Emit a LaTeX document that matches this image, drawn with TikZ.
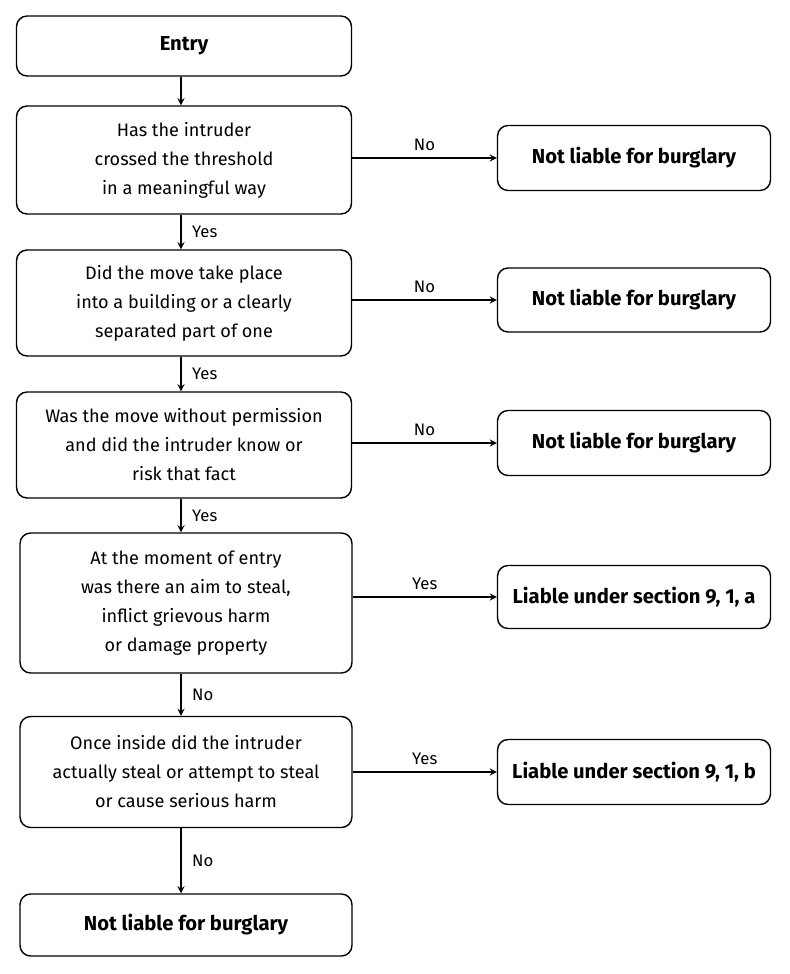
\documentclass[tikz,border=0pt]{standalone}
\usepackage{fontspec}
\setmainfont{Fira Sans}
\usetikzlibrary{positioning}

\begin{document}
\begin{tikzpicture}[x=0.02cm,y=-0.02cm]
\tikzset{every node/.style={inner sep=0pt},
  box/.style={draw,rounded corners=6pt,line width=0.8pt,align=center,
    font=\fontsize{10.3}{16.5}\selectfont},
  bbox/.style={box,font=\fontsize{11.5}{14}\selectfont\bfseries},
  lbl/.style={font=\fontsize{9.5}{11}\selectfont},
  arr/.style={->,line width=0.8pt,>=stealth}}
\useasboundingbox (0,0) rectangle (789,974);
\node [bbox,minimum width=6.7cm,minimum height=1.2cm] (entry) at (184,46) {Entry};
\node [box,minimum width=6.7cm,minimum height=2.16cm] (q1) at (184,160) {Has the intruder\\crossed the threshold\\in a meaningful way};
\node [box,minimum width=6.7cm,minimum height=2.12cm] (q2) at (184,303) {Did the move take place\\into a building or a clearly\\separated part of one};
\node [box,minimum width=6.7cm,minimum height=2.12cm] (q3) at (184,445) {Was the move without permission\\and did the intruder know or\\risk that fact};
\node [box,minimum width=6.64cm,minimum height=2.8cm] (q4) at (186,603) {At the moment of entry\\was there an aim to steal,\\inflict grievous harm\\or damage property};
\node [box,minimum width=6.64cm,minimum height=2.22cm] (q5) at (186,772) {Once inside did the intruder\\actually steal or attempt to steal\\or cause serious harm};
\node [bbox,minimum width=6.64cm,minimum height=1.24cm] (n6) at (186,925) {Not liable for burglary};
\node [bbox,minimum width=5.46cm,minimum height=1.3cm] (n1) at (634,158) {Not liable for burglary};
\node [bbox,minimum width=5.46cm,minimum height=1.28cm] (n2) at (634,300) {Not liable for burglary};
\node [bbox,minimum width=5.46cm,minimum height=1.3cm] (n3) at (634,443) {Not liable for burglary};
\node [bbox,minimum width=5.46cm,minimum height=1.26cm] (l1) at (634,597) {Liable under section 9, 1, a};
\node [bbox,minimum width=5.46cm,minimum height=1.3cm] (l2) at (634,772) {Liable under section 9, 1, b};
% downward flow
\draw [arr] (entry.south -| 181,0) -- (q1.north -| 181,0);
\draw [arr] (q1.south -| 181,0) -- node [lbl,right=6pt] {Yes} (q2.north -| 181,0);
\draw [arr] (q2.south -| 181,0) -- node [lbl,right=6pt] {Yes} (q3.north -| 181,0);
\draw [arr] (q3.south -| 181,0) -- node [lbl,right=6pt] {Yes} (q4.north -| 181,0);
\draw [arr] (q4.south -| 181,0) -- node [lbl,right=6pt] {No} (q5.north -| 181,0);
\draw [arr] (q5.south -| 181,0) -- node [lbl,right=6pt] {No} (n6.north -| 181,0);
% side exits
\draw [arr] (q1.east |- n1) -- node [lbl,above=4pt] {No} (n1.west);
\draw [arr] (q2.east |- n2) -- node [lbl,above=4pt] {No} (n2.west);
\draw [arr] (q3.east |- n3) -- node [lbl,above=4pt] {No} (n3.west);
\draw [arr] (q4.east |- l1) -- node [lbl,above=4pt] {Yes} (l1.west);
\draw [arr] (q5.east |- l2) -- node [lbl,above=4pt] {Yes} (l2.west);
\end{tikzpicture}
\end{document}
